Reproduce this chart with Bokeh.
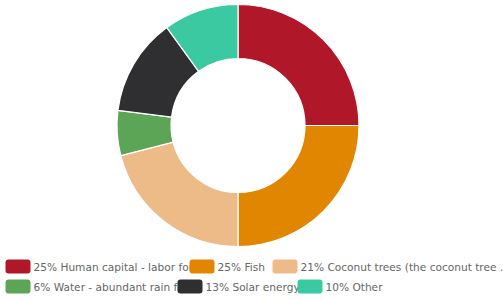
import math
from bokeh.plotting import figure
from bokeh.models import Range1d, ColumnDataSource
from bokeh.core.properties import value
from bokeh.embed import file_html
from bokeh.resources import INLINE

# --- data ---
labels = ["25% Human capital - labor force", "25% Fish",
          "21% Coconut trees (the coconut tree .", "6% Water - abundant rain fall",
          "13% Solar energy", "10% Other"]
values = [25, 25, 21, 6, 13, 10]
colors = ["#B0182A", "#E08600", "#EDBB87", "#5CA556", "#2F2F31", "#3AC9A0"]

W, H = 503, 300
p = figure(width=W, height=H, output_backend="svg", toolbar_location=None,
           x_range=Range1d(0, W), y_range=Range1d(H, 0), min_border=0)
p.axis.visible = False
p.grid.visible = False
p.outline_line_color = None
p.background_fill_color = "white"
p.border_fill_color = "white"

# donut, clockwise from 12 o'clock
total = float(sum(values))
starts, ends = [], []
cum = 0.0
for v in values:
    starts.append(math.pi / 2 - 2 * math.pi * cum / total)
    cum += v
    ends.append(math.pi / 2 - 2 * math.pi * cum / total)
src = ColumnDataSource(dict(start=starts, end=ends, color=colors))
p.annular_wedge(x=237.5, y=125, inner_radius=67, outer_radius=121,
                start_angle="start", end_angle="end", direction="clock",
                fill_color="color", line_color="white", line_width=1.2, source=src)

# legend (manual, items overlap like the reference)
sw_x = [5, 189, 272, 5, 177, 297]
row_y = [266, 266, 266, 286, 286, 286]
tsrc = ColumnDataSource(dict(x=[x + 28 for x in sw_x], y=row_y, t=labels))
p.text(x="x", y="y", text="t", source=tsrc, text_font=value("DejaVu Sans"),
       text_font_size="10.6px", text_color="#666666", text_baseline="middle")
qsrc = ColumnDataSource(dict(l=sw_x, r=[x + 25 for x in sw_x],
                             t=[y - 7 for y in row_y], b=[y + 7 for y in row_y], c=colors))
p.quad(left="l", right="r", top="t", bottom="b", fill_color="c", line_color=None,
       source=qsrc, border_radius=3)

open("out.html", "w").write(file_html(p, INLINE))
